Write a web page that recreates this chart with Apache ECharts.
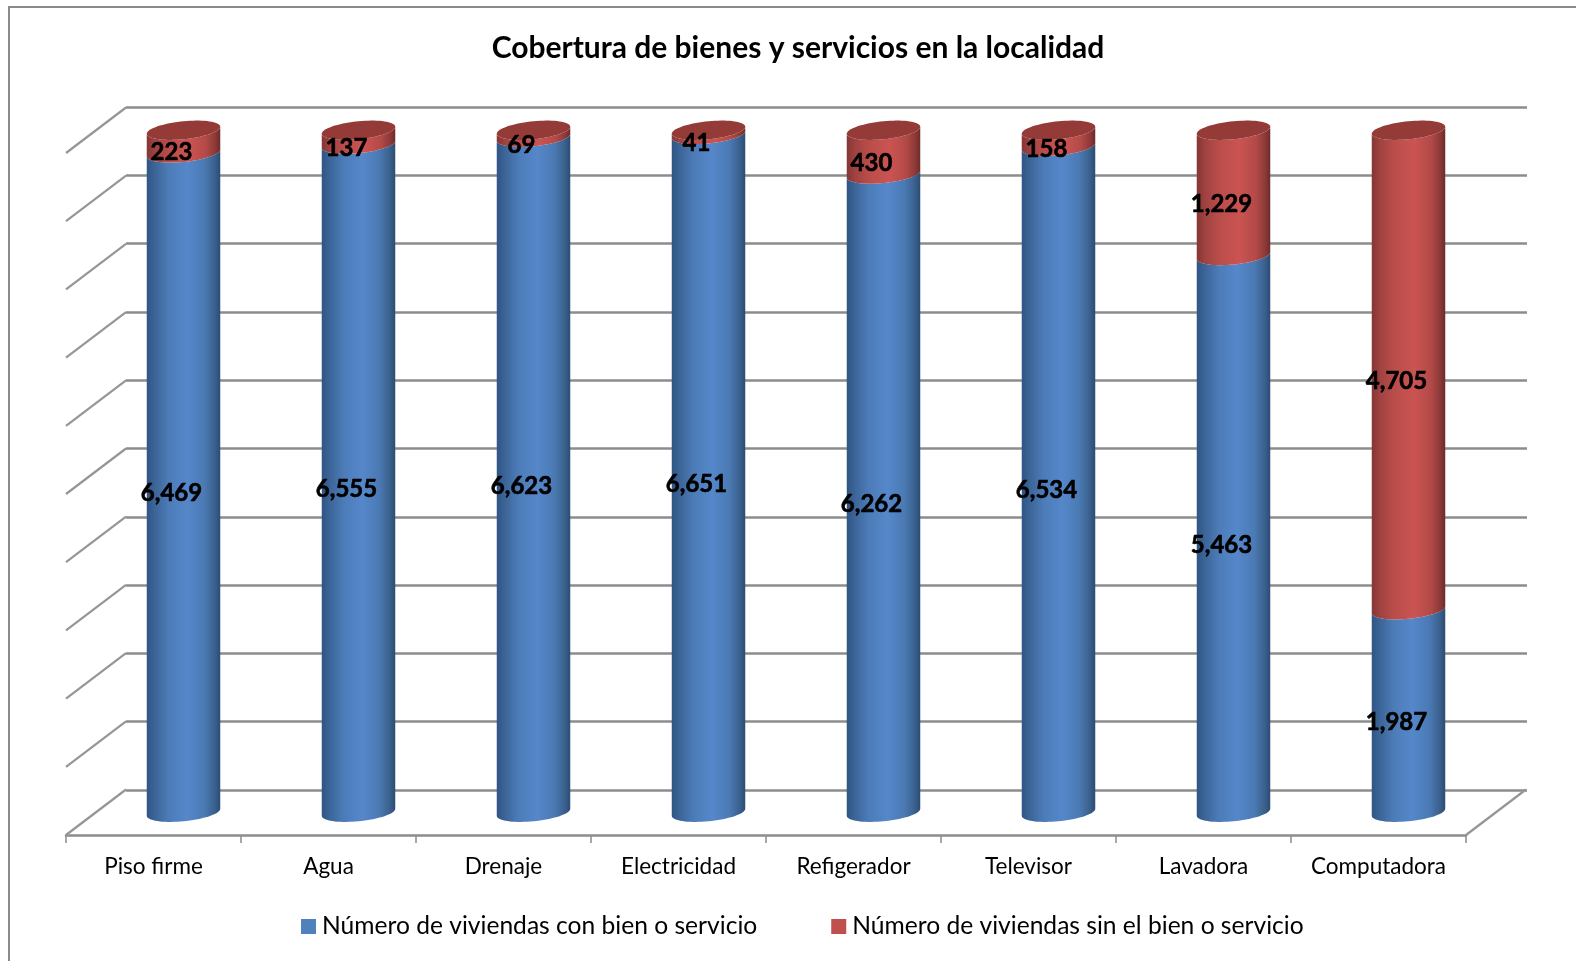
<!DOCTYPE html>
<html><head><meta charset="utf-8">
<style>html,body{margin:0;padding:0;background:#fff;overflow:hidden}#c{width:1576px;height:961px}</style>
<script src="https://cdn.jsdelivr.net/npm/echarts@6/dist/echarts.min.js"></script>
</head><body><div id="c"></div>
<script>
const chartTitle = 'Cobertura de bienes y servicios en la localidad';
const categories = ['Piso firme','Agua','Drenaje','Electricidad','Refigerador','Televisor','Lavadora','Computadora'];
const conBien = [6469,6555,6623,6651,6262,6534,5463,1987];
const sinBien = [223,137,69,41,430,158,1229,4705];
const seriesNames = ['Número de viviendas con bien o servicio','Número de viviendas sin el bien o servicio'];
const percentLevels = [0,10,20,30,40,50,60,70,80,90,100];

const FONT = 'Lato, "Open Sans", sans-serif';
const GRID_LINE = '#8c8c8c';
const DEPTH_X = 60, DEPTH_Y = 45.5;
const RY = 9, SHEAR = 3.5;
const gradBlue = {type:'linear',x:0,y:0,x2:1,y2:0,colorStops:[
  {offset:0,color:'#2f5584'},{offset:.12,color:'#3d6699'},{offset:.3,color:'#4c7cb8'},
  {offset:.55,color:'#5587ca'},{offset:.78,color:'#4b7ab4'},{offset:.92,color:'#3b628f'},{offset:1,color:'#2b4c75'}]};
const gradRed = {type:'linear',x:0,y:0,x2:1,y2:0,colorStops:[
  {offset:0,color:'#853634'},{offset:.12,color:'#a04341'},{offset:.3,color:'#b94d4a'},
  {offset:.58,color:'#cb5452'},{offset:.8,color:'#b34a48'},{offset:.93,color:'#8d3a38'},{offset:1,color:'#6c2b2a'}]};
const CAP = '#943b38';

function arc(cx,cy,rx,from,to,n){
  const p=[];
  for(let i=0;i<=n;i++){
    const t=from+(to-from)*i/n;
    p.push([cx+rx*Math.cos(t), cy+RY*Math.sin(t)-SHEAR*Math.cos(t)]);
  }
  return p;
}
function cylinder(fill,withCap){
  return function(params,api){
    const cat=api.value(0), start=api.value(1), end=api.value(2);
    const a=api.coord([cat,start]), b=api.coord([cat,end]);
    const rx=api.size([1,0])[0]*0.21;
    const cx=a[0]+DEPTH_X/2;
    const y0=a[1]-DEPTH_Y/2, y1=b[1]-DEPTH_Y/2;
    const bottom=arc(cx,y0,rx,0,Math.PI,36);
    const top=arc(cx,y1,rx,Math.PI,0,36);
    const children=[{type:'polygon',shape:{points:bottom.concat(top)},style:{fill:fill}}];
    if(withCap){
      children.push({type:'polygon',shape:{points:arc(cx,y1,rx,0,Math.PI*2,72)},style:{fill:CAP}});
    }
    children.push({type:'text',x:cx-12,y:(y0+y1)/2+11,z2:10,style:{
      text:api.value(3).toLocaleString('en-US'),font:'bold 24px '+FONT,fill:'#000',stroke:'#000',lineWidth:0.6,align:'center',verticalAlign:'middle'}});
    return {type:'group',children:children};
  };
}
function stacked(i){
  const t=conBien[i]+sinBien[i];
  return {a:conBien[i]/t*100,b:100};
}
const blueData=categories.map((c,i)=>[i,0,stacked(i).a,conBien[i]]);
const redData=categories.map((c,i)=>[i,stacked(i).a,stacked(i).b,sinBien[i]]);
const sideData=percentLevels.map(v=>[v,0]).concat([[0,1]]);

const chart=echarts.init(document.getElementById('c'),null,{renderer:'canvas'});
chart.setOption({
  animation:false,
  backgroundColor:'#fff',
  title:{text:chartTitle,left:793,top:28,textAlign:'center',
    textStyle:{fontFamily:FONT,fontWeight:'bold',fontSize:30,color:'#000'}},
  legend:{show:true,left:301,top:914,padding:0,itemWidth:15,itemHeight:15,itemGap:74,selectedMode:false,
    data:[{name:seriesNames[0],icon:'rect'},{name:seriesNames[1],icon:'rect'}],
    textStyle:{fontFamily:FONT,fontSize:24.6,color:'#000',padding:[0,0,0,1]}},
  tooltip:{show:false},
  graphic:[{type:'polyline',silent:true,z:-10,shape:{points:[[9,975],[9,7],[1590,7]]},
    style:{stroke:'#8a8a8a',lineWidth:2,fill:null}}],
  grid:[
    {left:66,right:110,top:153,bottom:126},
    {left:126,right:49,top:107,bottom:171}
  ],
  xAxis:[
    {type:'category',gridIndex:0,data:categories,boundaryGap:true,
     axisLine:{show:true,lineStyle:{color:GRID_LINE,width:2.5}},
     axisTick:{show:true,alignWithLabel:false,length:8,lineStyle:{color:GRID_LINE,width:1.5}},
     axisLabel:{fontFamily:FONT,fontSize:22.5,color:'#000',margin:20,interval:0},
     splitLine:{show:false}},
    {type:'category',gridIndex:1,data:categories,show:false}
  ],
  yAxis:[
    {type:'value',gridIndex:0,min:0,max:100,interval:10,show:false,splitLine:{show:false}},
    {type:'value',gridIndex:1,min:0,max:100,interval:10,
     axisLine:{show:false},axisTick:{show:false},axisLabel:{show:false},
     splitLine:{show:true,lineStyle:{color:GRID_LINE,width:2.5}}}
  ],
  series:[
    {type:'custom',name:'Profundidad',xAxisIndex:0,yAxisIndex:0,silent:true,z:1,clip:false,data:sideData,
     encode:{x:1,y:0},
     renderItem:function(params,api){
       const cs=params.coordSys;
       const y=api.coord([0,api.value(0)])[1];
       const x=api.value(1)?cs.x+cs.width:cs.x;
       return {type:'line',shape:{x1:x,y1:y,x2:x+DEPTH_X,y2:y-DEPTH_Y},style:{stroke:'#969696',lineWidth:2.2}};
     }},
    {type:'custom',name:seriesNames[0],xAxisIndex:0,yAxisIndex:0,z:3,clip:false,silent:true,
     itemStyle:{color:'#4f81bd'},data:blueData,encode:{x:0,y:[1,2]},renderItem:cylinder(gradBlue,false)},
    {type:'custom',name:seriesNames[1],xAxisIndex:0,yAxisIndex:0,z:4,clip:false,silent:true,
     itemStyle:{color:'#c0504d'},data:redData,encode:{x:0,y:[1,2]},renderItem:cylinder(gradRed,true)}
  ]
});
</script></body></html>
